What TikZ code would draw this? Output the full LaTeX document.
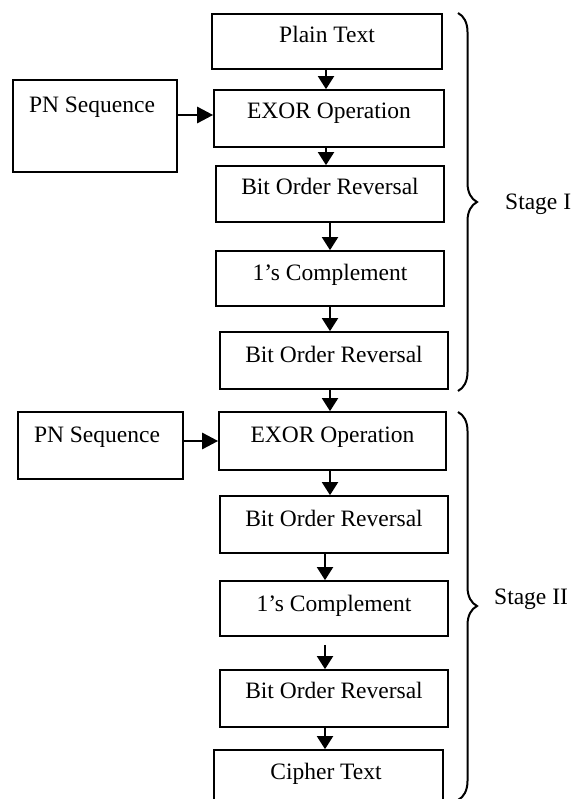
\documentclass[tikz,border=0pt]{standalone}
\usepackage{fontspec}
\setmainfont{Liberation Serif}
\usetikzlibrary{arrows.meta,decorations.pathreplacing}
\begin{document}
\begin{tikzpicture}[x=1pt,y=-1pt,
  box/.style={draw, line width=1.7pt, rectangle, inner sep=0pt},
  txt/.style={anchor=base, inner sep=0pt, font=\fontsize{23.5}{28}\selectfont},
  arr/.style={line width=1.9pt, -{Triangle[length=13pt,width=16pt]}},
  parr/.style={line width=2.8pt, -{Triangle[length=16pt,width=16pt]}},
  stagebrace/.style={decorate, decoration={brace, amplitude=19pt, aspect=0.5}, line width=2pt}]
\useasboundingbox (0,0) rectangle (575,799);
\clip (0,0) rectangle (575,799);
% Stage I boxes
\node[box, minimum width=230pt, minimum height=55pt] (plain) at (327,41.5) {};
\node[txt] (plainT) at (327,43) {Plain Text};
\node[box, minimum width=164pt, minimum height=92pt] (pn1) at (95,126) {};
\node[txt] (pn1T) at (92,113) {PN Sequence};
\node[box, minimum width=230pt, minimum height=57pt] (exor1) at (329,118.5) {};
\node[txt] (exor1T) at (329,119) {EXOR Operation};
\node[box, minimum width=228pt, minimum height=56pt] (bor1) at (330,194) {};
\node[txt] (bor1T) at (330,195) {Bit Order Reversal};
\node[box, minimum width=228pt, minimum height=55pt] (comp1) at (330,278.5) {};
\node[txt] (comp1T) at (330,280) {1’s Complement};
\node[box, minimum width=228pt, minimum height=57pt] (bor2) at (334,360.5) {};
\node[txt] (bor2T) at (334,362) {Bit Order Reversal};
% Stage II boxes
\node[box, minimum width=165pt, minimum height=67pt] (pn2) at (100.5,445.5) {};
\node[txt] (pn2T) at (97,442) {PN Sequence};
\node[box, minimum width=227pt, minimum height=58pt] (exor2) at (332.5,441) {};
\node[txt] (exor2T) at (332.5,442) {EXOR Operation};
\node[box, minimum width=228pt, minimum height=57pt] (bor3) at (334,524.5) {};
\node[txt] (bor3T) at (334,526) {Bit Order Reversal};
\node[box, minimum width=228pt, minimum height=55pt] (comp2) at (334,608.5) {};
\node[txt] (comp2T) at (334,611) {1’s Complement};
\node[box, minimum width=228pt, minimum height=57pt] (bor4) at (334,698.5) {};
\node[txt] (bor4T) at (334,698) {Bit Order Reversal};
\node[box, minimum width=229pt, minimum height=70pt] (cipher) at (328.5,785) {};
\node[txt] (cipherT) at (326,779) {Cipher Text};
% arrows
\coordinate (a1) at (326,0);
\coordinate (a2) at (330,0);
\coordinate (a3) at (325,0);
\draw[arr] (plain.south -| a1) -- (exor1.north -| a1);
\draw[arr] (exor1.south -| a1) -- (bor1.north -| a1);
\draw[arr] (bor1.south -| a2) -- (comp1.north -| a2);
\draw[arr] (comp1.south -| a2) -- (bor2.north -| a2);
\draw[arr] (bor2.south -| a2) -- (exor2.north -| a2);
\draw[arr] (exor2.south -| a2) -- (bor3.north -| a2);
\draw[arr] (bor3.south -| a3) -- (comp2.north -| a3);
\draw[arr] ([yshift=-8pt]comp2.south -| a3) -- (bor4.north -| a3);
\draw[arr] (bor4.south -| a3) -- (cipher.north -| a3);
\coordinate (p1) at (0,115);
\coordinate (p2) at (0,441);
\draw[parr] (pn1.east |- p1) -- (exor1.west |- p1);
\draw[parr] (pn2.east |- p2) -- (exor2.west |- p2);
% braces
\coordinate (b1t) at (458,13);
\coordinate (b1b) at (458,391);
\coordinate (b2t) at (458,412);
\coordinate (b2b) at (458,800);
\draw[stagebrace] (b1t) -- (b1b);
\draw[stagebrace] (b2t) -- (b2b);
\node[txt, anchor=base west] (s1) at (505,210) {Stage I};
\node[txt, anchor=base west] (s2) at (494,604) {Stage II};
\end{tikzpicture}
\end{document}
